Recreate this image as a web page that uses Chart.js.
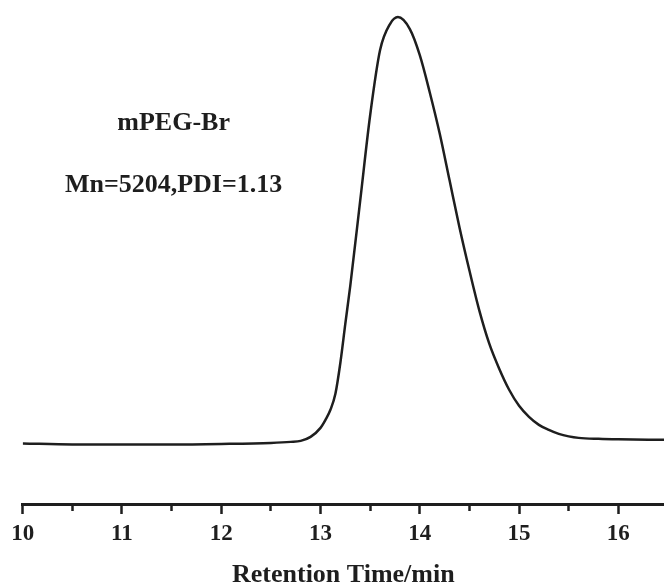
<!DOCTYPE html>
<html>
<head>
<meta charset="utf-8">
<script src="https://cdn.jsdelivr.net/npm/chart.js@4.4.1/dist/chart.umd.min.js"></script>
<style>
    html, body { margin: 0; padding: 0; background: #fff; }
    #wrap { width: 664px; height: 588px; position: relative; }
</style>
</head>
<body>
<div id="wrap"><canvas id="chart"></canvas></div>
<script>
// GPC trace (retention time in min, detector signal in arbitrary units)
const retentionTime = [10.0, 10.5, 11.0, 11.5, 12.0, 12.5, 12.7, 12.8, 12.9, 13.0, 13.05, 13.1, 13.15, 13.2, 13.25,
    13.3, 13.4, 13.5, 13.6, 13.7, 13.78, 13.9, 14.0, 14.1, 14.2, 14.3, 14.4, 14.5, 14.6, 14.7, 14.8, 14.9,
    15.0, 15.1, 15.2, 15.3, 15.4, 15.5, 15.6, 15.8, 16.0, 16.46]
const signal = [60.5, 59.5, 59.5, 59.5, 60, 61, 62, 63, 67, 76, 84, 94, 110, 141, 180,
    218, 303, 388, 453, 479, 486, 474, 448, 411, 370, 323, 276, 233, 193, 160, 135, 114,
    98, 87, 79, 74, 70, 67.5, 66, 65, 64.5, 64]

const majorTicks = [10, 11, 12, 13, 14, 15, 16]
const minorTicks = [10.5, 11.5, 12.5, 13.5, 14.5, 15.5]

const sampleName = 'mPEG-Br'
const sampleStats = 'Mn=5204,PDI=1.13'
const labelAnchor = { time: 11.52, values: [380, 318] }

const ink = '#1e1e1e'
const serif = '"Liberation Serif", "Times New Roman", serif'

const annotationPlugin = {
    id: 'annotation',
    afterDraw(chart) {
        const { ctx, scales: { x, y } } = chart
        ctx.save()
        ctx.fillStyle = ink
        ctx.font = `bold 26px ${serif}`
        ctx.textAlign = 'center'
        ctx.textBaseline = 'middle'
        const px = x.getPixelForValue(labelAnchor.time)
        ctx.fillText(sampleName, px, y.getPixelForValue(labelAnchor.values[0]))
        ctx.fillText(sampleStats, px, y.getPixelForValue(labelAnchor.values[1]))
        ctx.restore()
    }
}

new Chart(document.getElementById('chart'), {
    type: 'line',
    data: {
        datasets: [{
            data: retentionTime.map((t, i) => ({ x: t, y: signal[i] })),
            borderColor: ink,
            borderWidth: 2.5,
            pointRadius: 0,
            cubicInterpolationMode: 'monotone',
            fill: false,
        }]
    },
    options: {
        animation: false,
        responsive: true,
        maintainAspectRatio: false,
        layout: { padding: { left: 22.7, right: 0, top: 0, bottom: 0 } },
        plugins: { legend: { display: false }, tooltip: { enabled: false } },
        scales: {
            x: {
                type: 'linear',
                min: 10,
                max: 16.46,
                afterBuildTicks: scale => {
                    scale.ticks = [...majorTicks, ...minorTicks].sort((a, b) => a - b).map(value => ({ value }))
                },
                grid: {
                    drawOnChartArea: false,
                    drawTicks: true,
                    tickLength: 10,
                    tickWidth: 2.5,
                    tickColor: ink,
                    tickBorderDash: ctx => majorTicks.includes(ctx.tick?.value) ? [] : [5, 30],
                },
                border: { display: true, color: ink, width: 3 },
                ticks: {
                    autoSkip: false,
                    maxRotation: 0,
                    padding: 6,
                    color: ink,
                    font: { family: serif, weight: 'bold', size: 23 },
                    callback: value => majorTicks.includes(value) ? String(value) : '',
                },
                title: {
                    display: true,
                    text: 'Retention Time/min',
                    color: ink,
                    font: { family: serif, weight: 'bold', size: 26, lineHeight: 0.8 },
                    padding: { top: 11.5, bottom: 2.1 },
                },
            },
            y: {
                display: false,
                min: 0,
                max: 503,
            }
        }
    },
    plugins: [annotationPlugin]
})
</script>
</body>
</html>
